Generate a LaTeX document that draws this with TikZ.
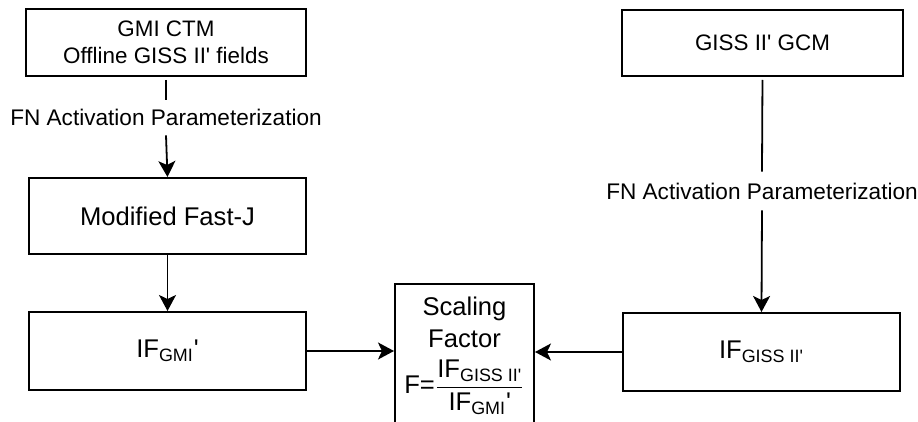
\documentclass[tikz,border=0pt]{standalone}
\usepackage{amsmath}
\usepackage{fontspec}
\setmainfont{Liberation Sans}
\usetikzlibrary{positioning,arrows.meta}
\newcommand{\apos}{\textquotesingle}

\begin{document}
\begin{tikzpicture}[
x=0.5pt, y=-0.5pt,
boxnode/.style={rectangle, draw=black, line width=1pt, inner sep=0pt, align=center, font=\fontsize{11.2}{13.5}\selectfont},
bignode/.style={boxnode, font=\fontsize{12.8}{16}\selectfont},
labelnode/.style={inner sep=0pt, font=\fontsize{11.3}{13}\selectfont},
flow/.style={line width=0.9pt, -{Stealth[length=8pt,width=8.5pt,inset=2pt]}},
]
\useasboundingbox (0,0) rectangle (918,422);
%Nodes
\node[boxnode, minimum width=140pt, minimum height=33.5pt](gmictm) at (166,42.5){GMI CTM\\Offline GISS II\apos{} fields};
\node[labelnode, minimum height=17.5pt](fnleft) at (166,117.5){FN Activation Parameterization};
\node[bignode, minimum width=138.5pt, minimum height=38pt](fastj) at (167.5,216){Modified Fast-J};
\node[bignode, minimum width=138.5pt, minimum height=39pt](ifgmi) at (167.5,351){IF\textsubscript{GMI}\apos};
\node[boxnode, minimum width=140.5pt, minimum height=33pt](gcm) at (762.5,43){GISS II\apos{} GCM};
\node[labelnode, minimum height=19pt](fnright) at (762,191){FN Activation Parameterization};
\node[bignode, minimum width=138.5pt, minimum height=39pt](ifgiss) at (761.5,352){IF\textsubscript{GISS II\apos}};
\node[bignode, anchor=north, minimum width=69.5pt, inner ysep=6.5pt](scaling) at (464.5,283){Scaling\\Factor\\[5pt]F=$\dfrac{\text{IF\textsubscript{GISS II\apos}}}{\text{IF\textsubscript{GMI}\apos}}$\\[4pt]};

\draw[line width=0.9pt, shorten <=1.5pt](gmictm.south) -- (fnleft.north);
\draw[flow](fnleft.south) -- (fastj.north);
\draw[flow](fastj.south) -- (ifgmi.north);
\draw[line width=0.9pt, shorten <=1.5pt](gcm.south) -- (fnright.north);
\draw[flow](fnright.south) -- (ifgiss.north);
\draw[flow](ifgmi.east) -- (ifgmi.east -| scaling.west);
\draw[flow](ifgiss.west) -- (ifgiss.west -| scaling.east);
\end{tikzpicture}
\end{document}
